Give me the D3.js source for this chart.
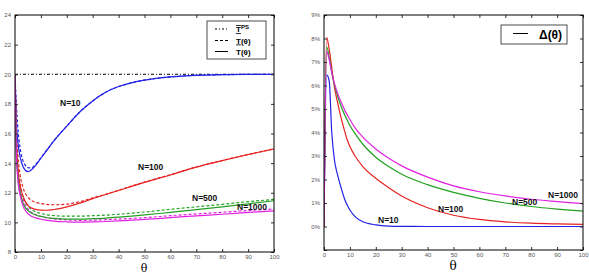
<!DOCTYPE html>
<html><head><meta charset="utf-8">
<script src="https://cdn.jsdelivr.net/npm/d3@7"></script>
<style>body{margin:0;background:#fff}svg{display:block}</style>
</head><body>
<svg id="c" width="589" height="274"></svg>
<script>
// ---------- data ----------
const thetaL = [0,0.5,1,2,3,4,5,6,8,10,12,15,20,25,30,35,40,45,50,60,70,80,90,100];
const T10   = [20,16.8,15.6,14.4,13.8,13.52,13.43,13.5,13.85,14.33,14.8,15.5,16.5,17.45,18.2,18.78,19.17,19.42,19.6,19.82,19.93,19.97,19.99,20];
const T10lo = [20,18,16.6,15.0,14.2,13.85,13.7,13.67,13.92,14.37,14.82,15.5,16.5,17.45,18.2,18.78,19.17,19.42,19.6,19.82,19.93,19.97,19.99,20];
const T100   = [20,15.8,14.0,12.5,11.8,11.4,11.15,11.0,10.88,10.83,10.82,10.87,11.05,11.3,11.6,11.88,12.15,12.43,12.7,13.2,13.73,14.17,14.58,14.96];
const T100lo = [20,16.5,14.8,13.2,12.4,11.95,11.7,11.52,11.35,11.27,11.22,11.19,11.23,11.4,11.65,11.9,12.17,12.45,12.72,13.22,13.74,14.18,14.58,14.96];
const T500   = [20,15,13.3,12.0,11.35,11.0,10.8,10.67,10.5,10.4,10.33,10.27,10.22,10.22,10.25,10.29,10.35,10.42,10.5,10.68,10.86,11.05,11.25,11.46];
const T500lo = [20,15.5,13.8,12.5,11.8,11.35,11.1,10.92,10.72,10.6,10.52,10.46,10.42,10.42,10.45,10.49,10.55,10.62,10.7,10.88,11.05,11.22,11.4,11.55];
const T1000   = [20,14.8,13.1,11.8,11.15,10.8,10.58,10.45,10.3,10.21,10.15,10.09,10.04,10.02,10.03,10.06,10.1,10.15,10.2,10.32,10.44,10.55,10.67,10.78];
const T1000lo = [20,15.3,13.6,12.3,11.6,11.15,10.9,10.72,10.52,10.4,10.32,10.24,10.17,10.14,10.15,10.18,10.22,10.27,10.32,10.45,10.57,10.68,10.8,10.9];
const TPS = 20;

const thetaR = [0,1,2,3,4,5,6,7,8,9,10,12,15,20,25,30,40,50,60,70,80,90,100];
const D10   = [0,6.45,6.2,4.0,2.85,2.3,1.88,1.5,1.15,0.9,0.7,0.42,0.2,0.07,0.02,0.005,0,0,0,0,0,0,0];
const D100  = [0,8.05,7.55,6.75,5.95,5.4,4.9,4.45,4.05,3.68,3.4,3.0,2.55,2.05,1.65,1.3,0.8,0.48,0.3,0.2,0.14,0.11,0.09];
const D500  = [0,7.65,7.2,6.55,6.05,5.65,5.3,5.0,4.75,4.52,4.3,3.95,3.5,2.95,2.55,2.22,1.78,1.45,1.2,1.0,0.85,0.74,0.65];
const D1000 = [0,7.45,7.1,6.55,6.1,5.75,5.45,5.2,4.95,4.75,4.55,4.2,3.8,3.3,2.9,2.58,2.1,1.73,1.48,1.3,1.16,1.06,0.97];

const xTicks = [0,10,20,30,40,50,60,70,80,90,100];
const yTicksL = [8,10,12,14,16,18,20,22,24];
const yTicksR = [-1,0,1,2,3,4,5,6,7,8,9];

const seriesNames = ["N=10","N=100","N=500","N=1000"];
const colors = ["#2222e6","#e62222","#22a022","#e022e0"];

// ---------- drawing ----------
const svg = d3.select("#c");
const tickFont = "Liberation Sans, Arial, sans-serif";

function frame(g, x, y, yTicks, yFmt, showYTick) {
  const [x0,x1] = x.range(), [y0,y1] = y.range();
  g.append("g").attr("transform",`translate(0,${y0})`)
    .call(d3.axisBottom(x).tickValues(xTicks).tickSize(-3).tickPadding(3))
    .call(a=>a.select(".domain").remove());
  g.append("g").attr("transform",`translate(0,${y1})`)
    .call(d3.axisTop(x).tickValues(xTicks).tickSize(-3).tickFormat(""))
    .call(a=>a.select(".domain").remove());
  g.append("g").attr("transform",`translate(${x0},0)`)
    .call(d3.axisLeft(y).tickValues(yTicks).tickSize(-3).tickPadding(4).tickFormat(d=>showYTick(d)?yFmt(d):""))
    .call(a=>a.select(".domain").remove());
  g.append("g").attr("transform",`translate(${x1},0)`)
    .call(d3.axisRight(y).tickValues(yTicks).tickSize(-3).tickFormat(""))
    .call(a=>a.select(".domain").remove());
  g.selectAll(".tick text").attr("font-size",6).attr("fill","#555").attr("font-family",tickFont);
  g.selectAll(".tick line").attr("stroke","#333");
  g.append("rect").attr("x",x0).attr("y",y1).attr("width",x1-x0).attr("height",y0-y1)
    .attr("fill","none").attr("stroke","#000").attr("stroke-width",1);
}

// Left chart
const xL = d3.scaleLinear().domain([0,100]).range([15,274]);
const yL = d3.scaleLinear().domain([8,24]).range([252,15]);
const gL = svg.append("g");
svg.append("clipPath").attr("id","clipL").append("rect")
  .attr("x",15).attr("y",15).attr("width",259).attr("height",237);
const lineL = d3.line().x((d,i)=>xL(thetaL[i])).y(d=>yL(d)).curve(d3.curveMonotoneX);
const solidsL = [T10,T100,T500,T1000], dashedL = [T10lo,T100lo,T500lo,T1000lo];
const pL = gL.append("g").attr("clip-path","url(#clipL)");
pL.append("line").attr("x1",xL(0)).attr("x2",xL(100)).attr("y1",yL(TPS)).attr("y2",yL(TPS))
  .attr("stroke","#000").attr("stroke-width",1).attr("stroke-dasharray","3,2,1,2");
dashedL.forEach((s,i)=>pL.append("path").attr("d",lineL(s)).attr("fill","none")
  .attr("stroke",colors[i]).attr("stroke-width",1.2).attr("stroke-dasharray","3,2"));
solidsL.forEach((s,i)=>pL.append("path").attr("d",lineL(s)).attr("fill","none")
  .attr("stroke",colors[i]).attr("stroke-width",1.2));
frame(gL, xL, yL, yTicksL, d=>String(d), d=>true);

const labL = [[60,106],[138,170],[192,201],[237,210]];
seriesNames.forEach((n,i)=>gL.append("text").attr("x",labL[i][0]).attr("y",labL[i][1])
  .attr("font-family",tickFont).attr("font-weight","bold").attr("font-size",8.5).attr("fill","#111").text(n));
gL.append("text").attr("x",144).attr("y",271.5).attr("text-anchor","middle")
  .attr("font-family","DejaVu Serif, serif").attr("font-size",11).text("θ");

// left legend
const lg = gL.append("g");
lg.append("rect").attr("x",207).attr("y",21).attr("width",59).attr("height",38)
  .attr("fill","#fff").attr("stroke","#222").attr("stroke-width",0.8);
const legRows = [{y:29,dash:"2,2,1,2"},{y:40.5,dash:"3,2"},{y:51.5,dash:null}];
legRows.forEach(r=>{
  const l = lg.append("line").attr("x1",215).attr("x2",228).attr("y1",r.y).attr("y2",r.y)
    .attr("stroke","#000").attr("stroke-width",1);
  if (r.dash) l.attr("stroke-dasharray",r.dash);
});
const t1 = lg.append("text").attr("x",236).attr("y",32).attr("font-family",tickFont).attr("font-size",8).attr("font-weight","bold");
t1.append("tspan").attr("text-decoration","underline overline").text("T");
t1.append("tspan").attr("dy",-3).attr("font-size",6).text("PS");
const t2 = lg.append("text").attr("x",236).attr("y",43.5).attr("font-family",tickFont).attr("font-size",8).attr("font-weight","bold");
t2.append("tspan").attr("text-decoration","underline").text("T");
t2.append("tspan").text("(θ)");
lg.append("text").attr("x",236).attr("y",54.5).attr("font-family",tickFont).attr("font-size",8).attr("font-weight","bold").text("T(θ)");

// Right chart
const xR = d3.scaleLinear().domain([0,100]).range([324,583]);
const yR = d3.scaleLinear().domain([-1,9]).range([250,15]);
const gR = svg.append("g");
svg.append("clipPath").attr("id","clipR").append("rect")
  .attr("x",324).attr("y",15).attr("width",259).attr("height",235);
const lineR = d3.line().x((d,i)=>xR(thetaR[i])).y(d=>yR(d)).curve(d3.curveMonotoneX);
const pR = gR.append("g").attr("clip-path","url(#clipR)");
[D10,D100,D500,D1000].forEach((s,i)=>pR.append("path").attr("d",lineR(s)).attr("fill","none")
  .attr("stroke",colors[i]).attr("stroke-width",1.2));
frame(gR, xR, yR, yTicksR, d=>d+"%", d=>d>=0);

const labR = [[378,223],[438,212],[512,205],[548,198]];
seriesNames.forEach((n,i)=>gR.append("text").attr("x",labR[i][0]).attr("y",labR[i][1])
  .attr("font-family",tickFont).attr("font-weight","bold").attr("font-size",8.5).attr("fill","#111").text(n));
gR.append("text").attr("x",453).attr("y",270).attr("text-anchor","middle")
  .attr("font-family","DejaVu Serif, serif").attr("font-size",12).text("θ");

const rg = gR.append("g");
rg.append("rect").attr("x",501).attr("y",25).attr("width",66).attr("height",19)
  .attr("fill","#fff").attr("stroke","#222").attr("stroke-width",0.8);
rg.append("line").attr("x1",513).attr("x2",528).attr("y1",33.5).attr("y2",33.5).attr("stroke","#000").attr("stroke-width",1);
rg.append("text").attr("x",539).attr("y",38.5).attr("font-family",tickFont).attr("font-weight","bold")
  .attr("font-size",12).text("Δ(θ)");
</script>
</body></html>
